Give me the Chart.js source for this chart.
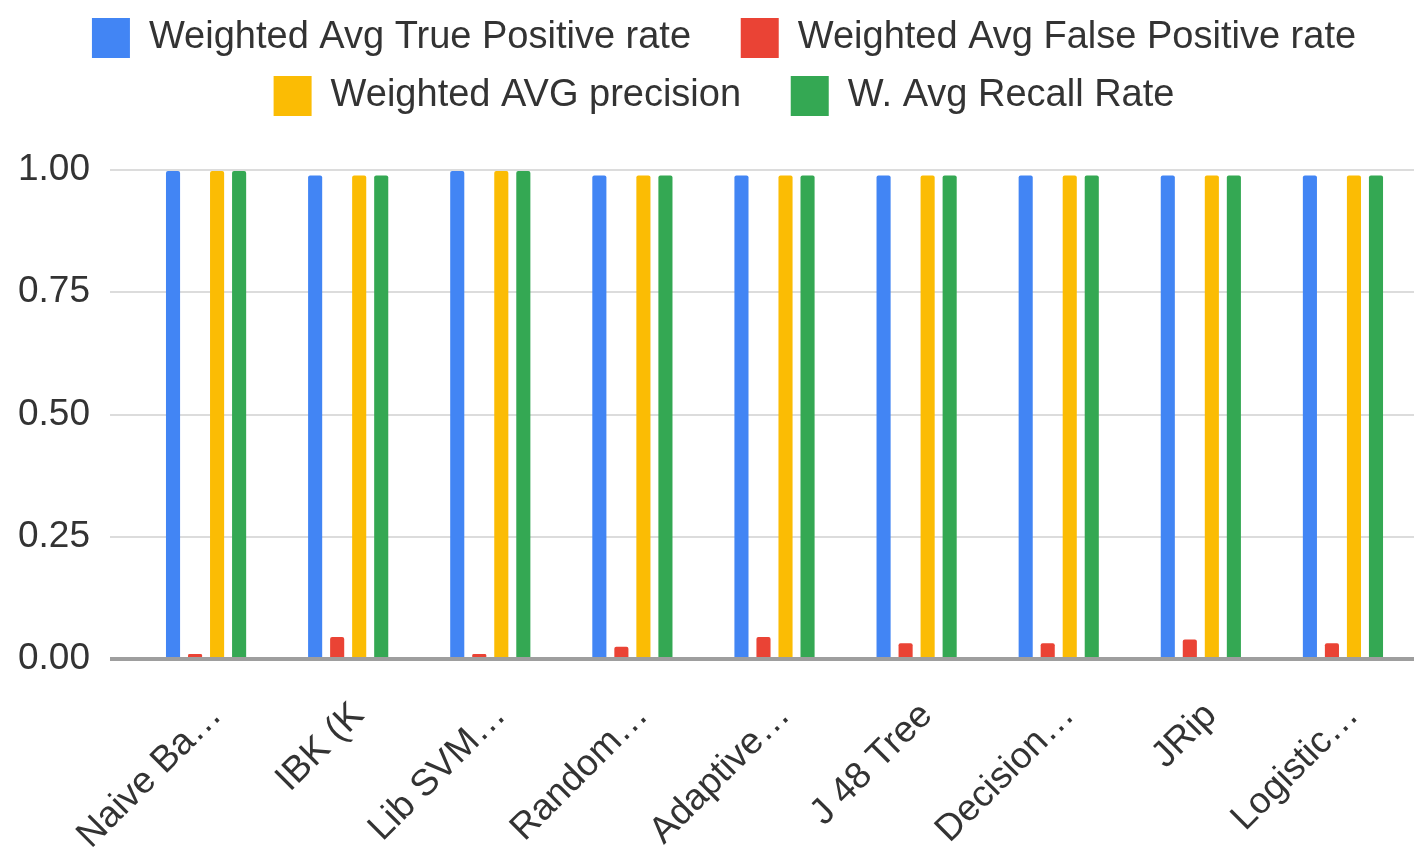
<!DOCTYPE html>
<html>
<head>
<meta charset="utf-8">
<script src="https://cdn.jsdelivr.net/npm/chart.js@4.4.1/dist/chart.umd.min.js"></script>
<style>
  html, body { margin: 0; padding: 0; background: #fff; }
  #wrap { width: 1427px; height: 853px; position: relative; }
</style>
</head>
<body>
<div id="wrap"><canvas id="c" width="1427" height="853"></canvas></div>
<script>
const categories = ["Naive Ba…", "IBK (K", "Lib SVM…", "Random…", "Adaptive…", "J 48 Tree", "Decision…", "JRip", "Logistic…"];
const seriesNames = ["Weighted Avg True Positive rate", "Weighted Avg False Positive rate", "Weighted AVG precision", "W. Avg Recall Rate"];
const truePositive = [0.998, 0.989, 0.998, 0.989, 0.989, 0.989, 0.989, 0.989, 0.989];
const falsePositive = [0.01, 0.045, 0.01, 0.025, 0.045, 0.032, 0.032, 0.04, 0.032];
const precision = [0.998, 0.989, 0.998, 0.989, 0.989, 0.989, 0.989, 0.989, 0.989];
const recall = [0.998, 0.989, 0.998, 0.989, 0.989, 0.989, 0.989, 0.989, 0.989];
const yTicks = [0, 0.25, 0.5, 0.75, 1.0];

const colors = ["#4285F4", "#EA4335", "#FBBC04", "#34A853"];
const FONT = "'Liberation Sans', Arial, sans-serif";
const seriesData = [truePositive, falsePositive, precision, recall];

const legendMargin = {
  id: 'legendMargin',
  beforeInit(chart) {
    const origFit = chart.legend.fit;
    chart.legend.fit = function () {
      origFit.bind(chart.legend)();
      this.height += 44;
    };
  },
  afterLayout(chart) {
    chart.legend.left += 18;
    chart.legend.right += 18;
  }
};

new Chart(document.getElementById('c'), {
  type: 'bar',
  data: {
    labels: categories,
    datasets: seriesNames.map((n, i) => ({
      label: n,
      data: seriesData[i],
      backgroundColor: colors[i],
      borderWidth: 0,
      borderRadius: { topLeft: 2, topRight: 2 },
      borderSkipped: 'bottom',
      categoryPercentage: 0.62,
      barPercentage: 0.64
    }))
  },
  plugins: [legendMargin],
  options: {
    responsive: false,
    animation: false,
    devicePixelRatio: 1,
    layout: { padding: { left: -2, right: 13, top: 0, bottom: 0 } },
    plugins: {
      legend: {
        position: 'top',
        labels: {
          font: { family: FONT, size: 38 },
          color: '#333',
          boxWidth: 38,
          boxHeight: 40,
          padding: 18,
          generateLabels: (chart) => {
            const items = Chart.defaults.plugins.legend.labels.generateLabels(chart);
            items.forEach((it, i) => { if (i === 0 || i === 2) it.text = it.text + '   '; });
            return items;
          }
        }
      },
      tooltip: { enabled: false }
    },
    scales: {
      x: {
        grid: { display: false, drawTicks: false },
        border: { display: false },
        afterFit: (scale) => { scale.height = 194; },
        ticks: {
          font: { family: FONT, size: 37 },
          color: '#333',
          maxRotation: 45,
          minRotation: 45,
          autoSkip: false,
          padding: 35,
          labelOffset: 10
        }
      },
      y: {
        min: 0,
        max: 1,
        afterBuildTicks: (axis) => { axis.ticks = yTicks.map(v => ({ value: v })); },
        grid: {
          color: (ctx) => ctx.tick && ctx.tick.value === 0 ? '#9e9e9e' : '#dcdcdc',
          lineWidth: (ctx) => ctx.tick && ctx.tick.value === 0 ? 4 : 2,
          tickLength: 25,
          drawTicks: true
        },
        border: { display: false },
        ticks: {
          font: { family: FONT, size: 37 },
          color: '#333',
          padding: 20,
          callback: (v) => Number(v).toFixed(2)
        }
      }
    }
  }
});
</script>
</body>
</html>
